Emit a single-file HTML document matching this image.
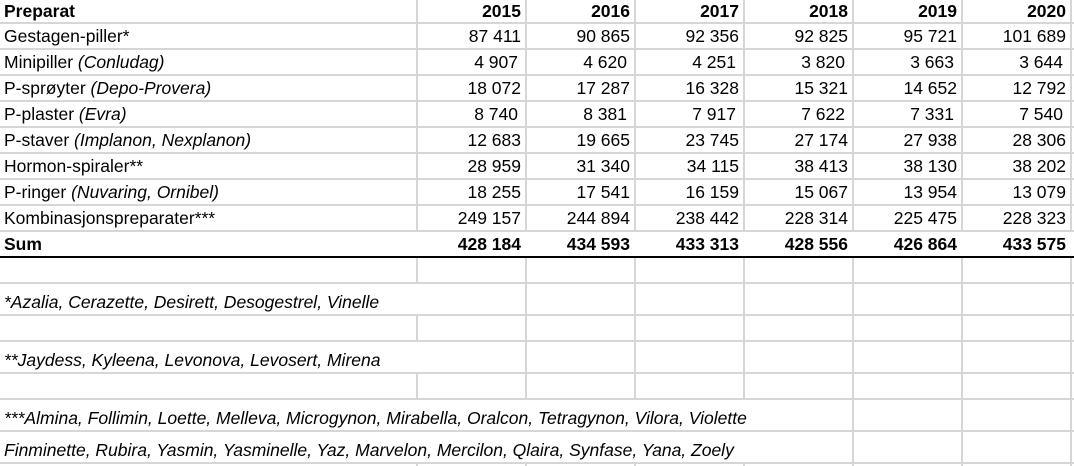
<!DOCTYPE html>
<html><head><meta charset="utf-8"><style>
html,body{margin:0;padding:0;background:#fff;}
body{width:1074px;height:466px;position:relative;overflow:hidden;font-family:"Liberation Sans",sans-serif;font-size:17.5px;color:#000;}
.t{position:absolute;white-space:nowrap;line-height:20px;}
.r{text-align:right;width:100px;}
.b{font-weight:bold;}
i{font-style:italic;}
svg{position:absolute;left:0;top:0;}
</style></head><body>
<svg width="1074" height="466">
<g stroke="#d6d6d6" stroke-width="2">
<line x1="0" y1="23" x2="1074" y2="23"/><line x1="0" y1="49" x2="1074" y2="49"/><line x1="0" y1="75" x2="1074" y2="75"/><line x1="0" y1="101" x2="1074" y2="101"/><line x1="0" y1="127" x2="1074" y2="127"/><line x1="0" y1="153" x2="1074" y2="153"/><line x1="0" y1="179" x2="1074" y2="179"/><line x1="0" y1="205" x2="1074" y2="205"/><line x1="0" y1="231" x2="1074" y2="231"/>
<line x1="0" y1="283" x2="1074" y2="283"/><line x1="0" y1="315" x2="1074" y2="315"/><line x1="0" y1="341" x2="1074" y2="341"/><line x1="0" y1="373" x2="1074" y2="373"/><line x1="0" y1="399" x2="1074" y2="399"/><line x1="0" y1="431" x2="1074" y2="431"/><line x1="0" y1="463" x2="1074" y2="463"/>
<line x1="417" y1="0" x2="417" y2="231"/><line x1="526" y1="0" x2="526" y2="231"/><line x1="635" y1="0" x2="635" y2="231"/><line x1="744" y1="0" x2="744" y2="231"/><line x1="853" y1="0" x2="853" y2="231"/><line x1="962" y1="0" x2="962" y2="231"/><line x1="1071" y1="0" x2="1071" y2="231"/>
<line x1="417" y1="257" x2="417" y2="283"/><line x1="417" y1="315" x2="417" y2="341"/><line x1="417" y1="373" x2="417" y2="399"/><line x1="417" y1="463" x2="417" y2="466"/>
<line x1="526" y1="257" x2="526" y2="399"/><line x1="635" y1="257" x2="635" y2="399"/><line x1="744" y1="257" x2="744" y2="399"/>
<line x1="526" y1="463" x2="526" y2="466"/><line x1="635" y1="463" x2="635" y2="466"/><line x1="744" y1="463" x2="744" y2="466"/>
<line x1="853" y1="257" x2="853" y2="466"/><line x1="962" y1="257" x2="962" y2="466"/><line x1="1071" y1="257" x2="1071" y2="466"/>
</g>
<line x1="0" y1="257" x2="1074" y2="257" stroke="#000" stroke-width="2"/>
</svg>

<div class="t b" style="left:4px;top:1px">Preparat</div>
<div class="t b r" style="left:421px;top:1px">2015</div>
<div class="t b r" style="left:530px;top:1px">2016</div>
<div class="t b r" style="left:639px;top:1px">2017</div>
<div class="t b r" style="left:748px;top:1px">2018</div>
<div class="t b r" style="left:857px;top:1px">2019</div>
<div class="t b r" style="left:966px;top:1px">2020</div>

<div class="t" style="left:4px;top:26px">Gestagen-piller*</div>
<div class="t r" style="left:421px;top:26px">87 411</div><div class="t r" style="left:530px;top:26px">90 865</div><div class="t r" style="left:639px;top:26px">92 356</div><div class="t r" style="left:748px;top:26px">92 825</div><div class="t r" style="left:857px;top:26px">95 721</div><div class="t r" style="left:966px;top:26px">101 689</div>

<div class="t" style="left:4px;top:52px">Minipiller <i>(Conludag)</i></div>
<div class="t r" style="left:418px;top:52px">4 907</div><div class="t r" style="left:527px;top:52px">4 620</div><div class="t r" style="left:636px;top:52px">4 251</div><div class="t r" style="left:745px;top:52px">3 820</div><div class="t r" style="left:854px;top:52px">3 663</div><div class="t r" style="left:963px;top:52px">3 644</div>

<div class="t" style="left:4px;top:78px">P-sprøyter <i>(Depo-Provera)</i></div>
<div class="t r" style="left:421px;top:78px">18 072</div><div class="t r" style="left:530px;top:78px">17 287</div><div class="t r" style="left:639px;top:78px">16 328</div><div class="t r" style="left:748px;top:78px">15 321</div><div class="t r" style="left:857px;top:78px">14 652</div><div class="t r" style="left:966px;top:78px">12 792</div>

<div class="t" style="left:4px;top:104px">P-plaster <i>(Evra)</i></div>
<div class="t r" style="left:418px;top:104px">8 740</div><div class="t r" style="left:527px;top:104px">8 381</div><div class="t r" style="left:636px;top:104px">7 917</div><div class="t r" style="left:745px;top:104px">7 622</div><div class="t r" style="left:854px;top:104px">7 331</div><div class="t r" style="left:963px;top:104px">7 540</div>

<div class="t" style="left:4px;top:130px">P-staver <i>(Implanon, Nexplanon)</i></div>
<div class="t r" style="left:421px;top:130px">12 683</div><div class="t r" style="left:530px;top:130px">19 665</div><div class="t r" style="left:639px;top:130px">23 745</div><div class="t r" style="left:748px;top:130px">27 174</div><div class="t r" style="left:857px;top:130px">27 938</div><div class="t r" style="left:966px;top:130px">28 306</div>

<div class="t" style="left:4px;top:156px">Hormon-spiraler**</div>
<div class="t r" style="left:421px;top:156px">28 959</div><div class="t r" style="left:530px;top:156px">31 340</div><div class="t r" style="left:639px;top:156px">34 115</div><div class="t r" style="left:748px;top:156px">38 413</div><div class="t r" style="left:857px;top:156px">38 130</div><div class="t r" style="left:966px;top:156px">38 202</div>

<div class="t" style="left:4px;top:182px">P-ringer <i>(Nuvaring, Ornibel)</i></div>
<div class="t r" style="left:421px;top:182px">18 255</div><div class="t r" style="left:530px;top:182px">17 541</div><div class="t r" style="left:639px;top:182px">16 159</div><div class="t r" style="left:748px;top:182px">15 067</div><div class="t r" style="left:857px;top:182px">13 954</div><div class="t r" style="left:966px;top:182px">13 079</div>

<div class="t" style="left:4px;top:208px">Kombinasjonspreparater***</div>
<div class="t r" style="left:421px;top:208px">249 157</div><div class="t r" style="left:530px;top:208px">244 894</div><div class="t r" style="left:639px;top:208px">238 442</div><div class="t r" style="left:748px;top:208px">228 314</div><div class="t r" style="left:857px;top:208px">225 475</div><div class="t r" style="left:966px;top:208px">228 323</div>

<div class="t b" style="left:4px;top:234px">Sum</div>
<div class="t b r" style="left:421px;top:234px">428 184</div><div class="t b r" style="left:530px;top:234px">434 593</div><div class="t b r" style="left:639px;top:234px">433 313</div><div class="t b r" style="left:748px;top:234px">428 556</div><div class="t b r" style="left:857px;top:234px">426 864</div><div class="t b r" style="left:966px;top:234px">433 575</div>

<div class="t" style="left:4px;top:292px"><i>*Azalia, Cerazette, Desirett, Desogestrel, Vinelle</i></div>
<div class="t" style="left:4px;top:350px"><i>**Jaydess, Kyleena, Levonova, Levosert, Mirena</i></div>
<div class="t" style="left:4px;top:408px"><i>***Almina, Follimin, Loette, Melleva, Microgynon, Mirabella, Oralcon, Tetragynon, Vilora, Violette</i></div>
<div class="t" style="left:4px;top:440px"><i>Finminette, Rubira, Yasmin, Yasminelle, Yaz, Marvelon, Mercilon, Qlaira, Synfase, Yana, Zoely</i></div>
</body></html>
